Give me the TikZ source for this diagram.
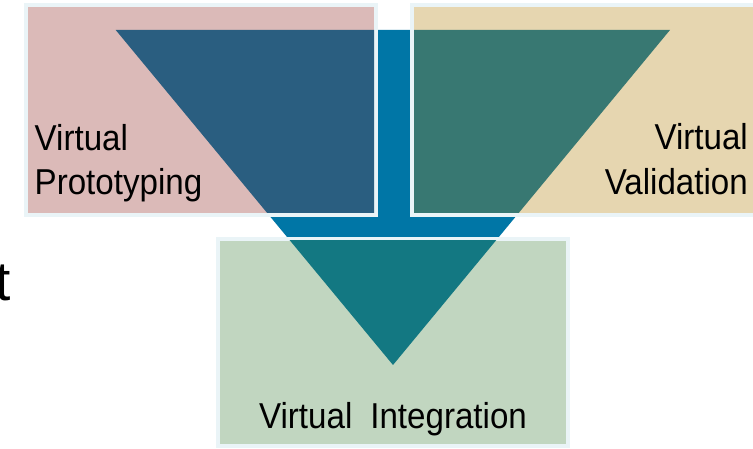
\documentclass[tikz,border=0pt]{standalone}
\usepackage{fontspec}
\setmainfont{Liberation Sans}
\newfontfamily\labelfont[FakeStretch=0.92]{Liberation Sans}
\definecolor{vblue}{HTML}{0076A6}
\definecolor{pinkbox}{HTML}{DBBAB8}
\definecolor{tanbox}{HTML}{E6D6B0}
\definecolor{greenbox}{HTML}{C1D6C0}
\definecolor{onpink}{HTML}{2A5E80}
\definecolor{ontan}{HTML}{387872}
\definecolor{ongreen}{HTML}{137882}
\definecolor{boxrim}{HTML}{EAF4F7}
\tikzset{
  phasebox/.style={draw=boxrim, line width=4pt},
  label/.style={inner sep=0pt, font=\labelfont\fontsize{36}{42}\selectfont, text=black},
}
\begin{document}
\begin{tikzpicture}[x=1pt, y=1pt]
  \useasboundingbox[fill=white] (0,0) rectangle (753,449);

  % the funnel shape
  \coordinate (tl) at (115.7,419);
  \coordinate (tr) at (670,419);
  \coordinate (apex) at (393,84);
  \fill[vblue] (tl) -- (tr) -- (apex) -- cycle;

  % Virtual Prototyping box
  \filldraw[phasebox, fill=pinkbox] (26,444) rectangle (376,234);
  \begin{scope}
    \clip (28,442) rectangle (374,236);
    \fill[onpink] (tl) -- (tr) -- (apex) -- cycle;
  \end{scope}

  % Virtual Validation box
  \filldraw[phasebox, fill=tanbox] (412,444) rectangle (770,234);
  \begin{scope}
    \clip (414,442) rectangle (770,236);
    \fill[ontan] (tl) -- (tr) -- (apex) -- cycle;
  \end{scope}

  % Virtual Integration box
  \filldraw[phasebox, fill=greenbox] (218,210) rectangle (568,3);
  \begin{scope}
    \clip (220,208) rectangle (566,5);
    \fill[ongreen] (tl) -- (tr) -- (apex) -- cycle;
  \end{scope}

  % labels
  \node[label, anchor=base west] (protoA) at (34.5,298.5) {Virtual};
  \node[label, anchor=base west] (protoB) at (34.5,254) {Prototyping};
  \node[label, anchor=base east] (validA) at (748,299.5) {Virtual};
  \node[label, anchor=base east] (validB) at (748,254) {Validation};
  \node[label, anchor=base] (integ) at (393,20.7) {Virtual\hspace{0.5em}Integration};

  % fragment of a larger heading at the left edge
  \node[inner sep=0pt, anchor=base east, font=\fontsize{55}{60}\selectfont] (tfrag) at (10.5,148) {t};
\end{tikzpicture}
\end{document}
